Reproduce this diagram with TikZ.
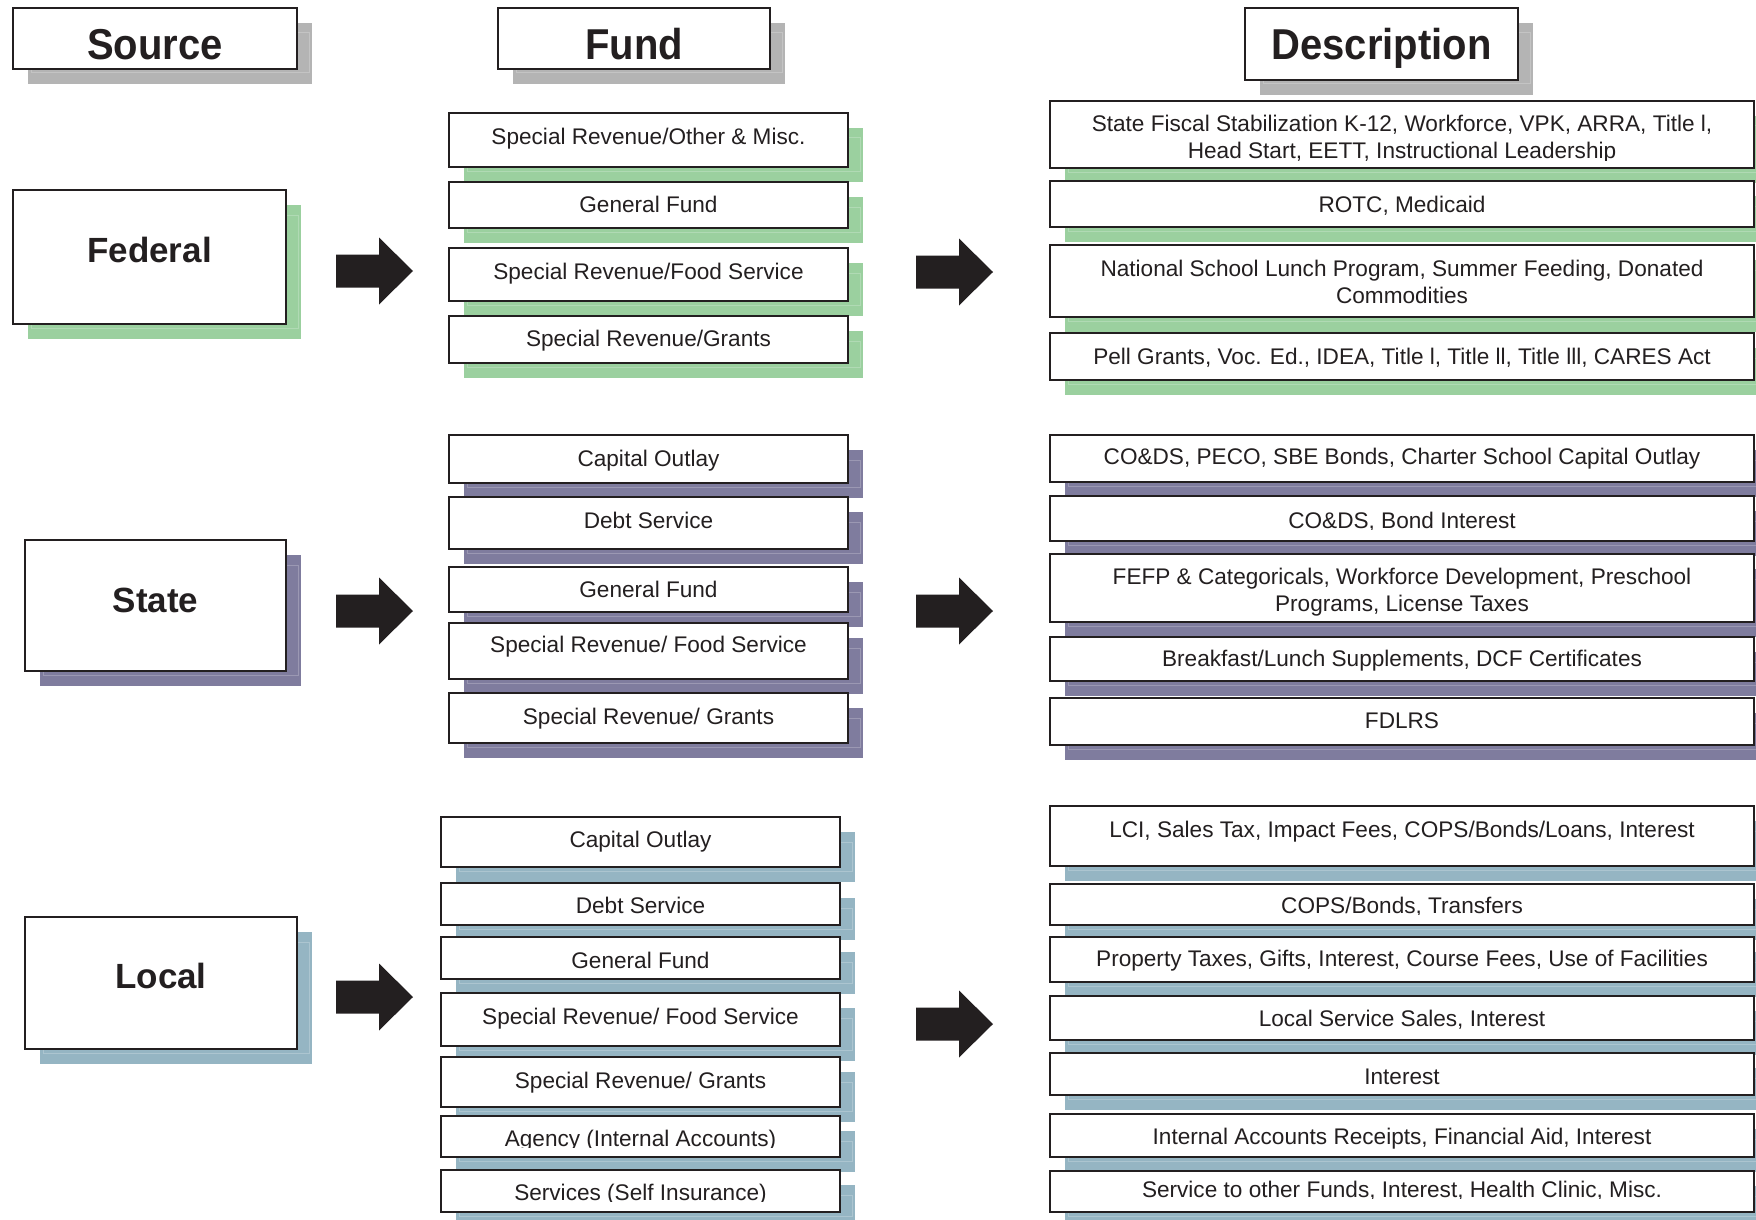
\documentclass[tikz,border=0pt]{standalone}
\usepackage{graphicx}
\usepackage{fontspec}
\setmainfont{Liberation Sans}
\definecolor{ink}{HTML}{231F20}
\definecolor{grn}{HTML}{9BD09F}
\definecolor{pur}{HTML}{7F7C9E}
\definecolor{blu}{HTML}{95B5C3}
\definecolor{gry}{HTML}{B4B4B4}
\tikzset{
  boxst/.style={draw=ink, line width=1pt, fill=white, inner sep=0pt, outer sep=0pt},
  txt/.style={text=ink, font=\fontsize{11.3}{13.5}\selectfont, align=center, inner sep=0pt},
  headtxt/.style={text=ink, font=\fontsize{20}{24}\selectfont\bfseries, inner sep=0pt, anchor=base},
  srctxt/.style={text=ink, font=\fontsize{17.5}{21}\selectfont\bfseries, inner sep=0pt, anchor=base},
  blockarrow/.style={fill=ink, draw=none},
}
% box with drop shadow: name, x1, y1, x2, y2, shadow colour
\newcommand\shbox[6]{%
  \fill[#6] ({#2+15},{#3+15}) rectangle ({#4+15},{#5+15});
  \draw[white, opacity=0.22, line width=0.5pt] ({#2+18},{#3+25}) rectangle ({#4+12.5},{#5+4});
  \pgfmathsetmacro\bw{(#4-#2)*0.5}%
  \pgfmathsetmacro\bh{(#5-#3)*0.5}%
  \node[boxst, minimum width=\bw pt, minimum height=\bh pt] (#1) at ({(#2+#4)/2},{(#3+#5)/2}) {};
}
% text node: name, x, y, style, text
\newcommand\tx[5]{\node[#4] (#1) at (#2,#3) {#5};}
% clipped text: name, x, baseline y, clip y, text
\newcommand\ctx[5]{%
  \begin{scope}
    \clip (0,0) rectangle (1756,#4);
    \node[txt, anchor=base] (#1) at (#2,#3) {#5};
  \end{scope}}
% block arrow: name, left x, centre y
\newcommand\barrow[3]{%
  \fill[blockarrow] (#2,{#3-16.5}) -- ({#2+43},{#3-16.5}) -- ({#2+43},{#3-33.5})
     -- ({#2+77},#3) -- ({#2+43},{#3+33.5}) -- ({#2+43},{#3+16.5}) -- (#2,{#3+16.5}) -- cycle;
  \coordinate (#1) at ({#2+38},#3);}

\begin{document}
\begin{tikzpicture}[x=0.5pt, y=-0.5pt]
\useasboundingbox (0,0) rectangle (1756,1220);
\clip (0,0) rectangle (1756,1220);

% headers
\shbox{hsrc}{13}{8}{297}{69}{gry}
\tx{hsrc-t}{155}{59.5}{headtxt}{\scalebox{1}[1.08]{Source}}
\shbox{hfund}{498}{8}{770}{69}{gry}
\tx{hfund-t}{634}{59.5}{headtxt}{\scalebox{1}[1.08]{Fund}}
\shbox{hdesc}{1245}{8}{1518}{80}{gry}
\tx{hdesc-t}{1381.5}{59.5}{headtxt}{\scalebox{1}[1.08]{Description}}

% ---------------- Federal ----------------
\shbox{fed}{13}{190}{286}{324}{grn}
\tx{fed-t}{149.5}{262}{srctxt}{Federal}
\barrow{fedA}{336}{271}
\barrow{fedB}{916}{272}

\shbox{ff1}{449}{113}{848}{167}{grn}
\shbox{ff2}{449}{182}{848}{228}{grn}
\shbox{ff3}{449}{248}{848}{301}{grn}
\shbox{ff4}{449}{316}{848}{363}{grn}
\tx{ff1-t}{648.5}{139}{txt}{Special Revenue/Other \& Misc.}
\tx{ff2-t}{648.5}{204}{txt}{General Fund}
\tx{ff3-t}{648.5}{274}{txt}{Special Revenue/Food Service}
\tx{ff4-t}{648.5}{341}{txt}{Special Revenue/Grants}

\shbox{fd1}{1050}{101}{1754}{168}{grn}
\shbox{fd2}{1050}{181}{1754}{227}{grn}
\shbox{fd3}{1050}{245}{1754}{317}{grn}
\shbox{fd4}{1050}{333}{1754}{380}{grn}
\begin{scope}
  \clip (0,0) rectangle (1756,160);
  \tx{fd1-t}{1402}{139}{txt}{State Fiscal Stabilization K-12, Workforce, VPK, ARRA, Title l,\\Head Start, EETT, Instructional Leadership}
\end{scope}
\tx{fd2-t}{1402}{206}{txt}{ROTC, Medicaid}
\tx{fd3-t}{1402}{282}{txt}{National School Lunch Program, Summer Feeding, Donated\\Commodities}
\tx{fd4-t}{1402}{358}{txt}{Pell Grants, Voc. Ed., IDEA, Title l, Title ll, Title lll, CARES Act}

% ---------------- State ----------------
\shbox{st}{25}{540}{286}{671}{pur}
\tx{st-t}{155.5}{612}{srctxt}{State}
\barrow{stA}{336}{611}
\barrow{stB}{916}{611}

\shbox{sf1}{449}{435}{848}{483}{pur}
\shbox{sf2}{449}{497}{848}{549}{pur}
\shbox{sf3}{449}{567}{848}{612}{pur}
\shbox{sf4}{449}{623}{848}{679}{pur}
\shbox{sf5}{449}{693}{848}{743}{pur}
\tx{sf1-t}{648.5}{461}{txt}{Capital Outlay}
\tx{sf2-t}{648.5}{520}{txt}{Debt Service}
\tx{sf3-t}{648.5}{589}{txt}{General Fund}
\tx{sf4-t}{648.5}{647}{txt}{Special Revenue/ Food Service}
\tx{sf5-t}{648.5}{719}{txt}{Special Revenue/ Grants}

\shbox{sd1}{1050}{435}{1754}{482}{pur}
\shbox{sd2}{1050}{496}{1754}{541}{pur}
\shbox{sd3}{1050}{554}{1754}{622}{pur}
\shbox{sd4}{1050}{637}{1754}{681}{pur}
\shbox{sd5}{1050}{698}{1754}{745}{pur}
\tx{sd1-t}{1402}{459}{txt}{CO\&DS, PECO, SBE Bonds, Charter School Capital Outlay}
\ctx{sd2-t}{1402}{528}{529}{CO\&DS, Bond Interest}
\tx{sd3-t}{1402}{592}{txt}{FEFP \& Categoricals, Workforce Development, Preschool\\Programs, License Taxes}
\tx{sd4-t}{1402}{661}{txt}{Breakfast/Lunch Supplements, DCF Certificates}
\tx{sd5-t}{1402}{721}{txt}{FDLRS}

% ---------------- Local ----------------
\shbox{lo}{25}{917}{297}{1049}{blu}
\tx{lo-t}{161}{988.5}{srctxt}{Local}
\barrow{loA}{336}{997}
\barrow{loB}{916}{1024}

\shbox{lf1}{441}{817}{840}{867}{blu}
\shbox{lf2}{441}{883}{840}{925}{blu}
\shbox{lf3}{441}{937}{840}{979}{blu}
\shbox{lf4}{441}{993}{840}{1046}{blu}
\shbox{lf5}{441}{1057}{840}{1107}{blu}
\shbox{lf6}{441}{1116}{840}{1157}{blu}
\shbox{lf7}{441}{1170}{840}{1212}{blu}
\tx{lf1-t}{640.5}{842}{txt}{Capital Outlay}
\tx{lf2-t}{640.5}{905}{txt}{Debt Service}
\tx{lf3-t}{640.5}{960}{txt}{General Fund}
\tx{lf4-t}{640.5}{1019}{txt}{Special Revenue/ Food Service}
\tx{lf5-t}{640.5}{1083}{txt}{Special Revenue/ Grants}
\ctx{lf6-t}{640.5}{1146}{1147}{Agency (Internal Accounts)}
\ctx{lf7-t}{640.5}{1200}{1201}{Services (Self Insurance)}

\shbox{ld1}{1050}{806}{1754}{866}{blu}
\shbox{ld2}{1050}{884}{1754}{925}{blu}
\shbox{ld3}{1050}{937}{1754}{982}{blu}
\shbox{ld4}{1050}{996}{1754}{1040}{blu}
\shbox{ld5}{1050}{1053}{1754}{1095}{blu}
\shbox{ld6}{1050}{1114}{1754}{1157}{blu}
\shbox{ld7}{1050}{1171}{1754}{1212}{blu}
\tx{ld1-t}{1402}{832}{txt}{LCI, Sales Tax, Impact Fees, COPS/Bonds/Loans, Interest}
\ctx{ld2-t}{1402}{913}{914}{COPS/Bonds, Transfers}
\tx{ld3-t}{1402}{961}{txt}{Property Taxes, Gifts, Interest, Course Fees, Use of Facilities}
\tx{ld4-t}{1402}{1020}{txt}{Local Service Sales, Interest}
\tx{ld5-t}{1402}{1077}{txt}{Interest}
\tx{ld6-t}{1402}{1139}{txt}{Internal Accounts Receipts, Financial Aid, Interest}
\ctx{ld7-t}{1402}{1197}{1198}{Service to other Funds, Interest, Health Clinic, Misc.}
\end{tikzpicture}
\end{document}
